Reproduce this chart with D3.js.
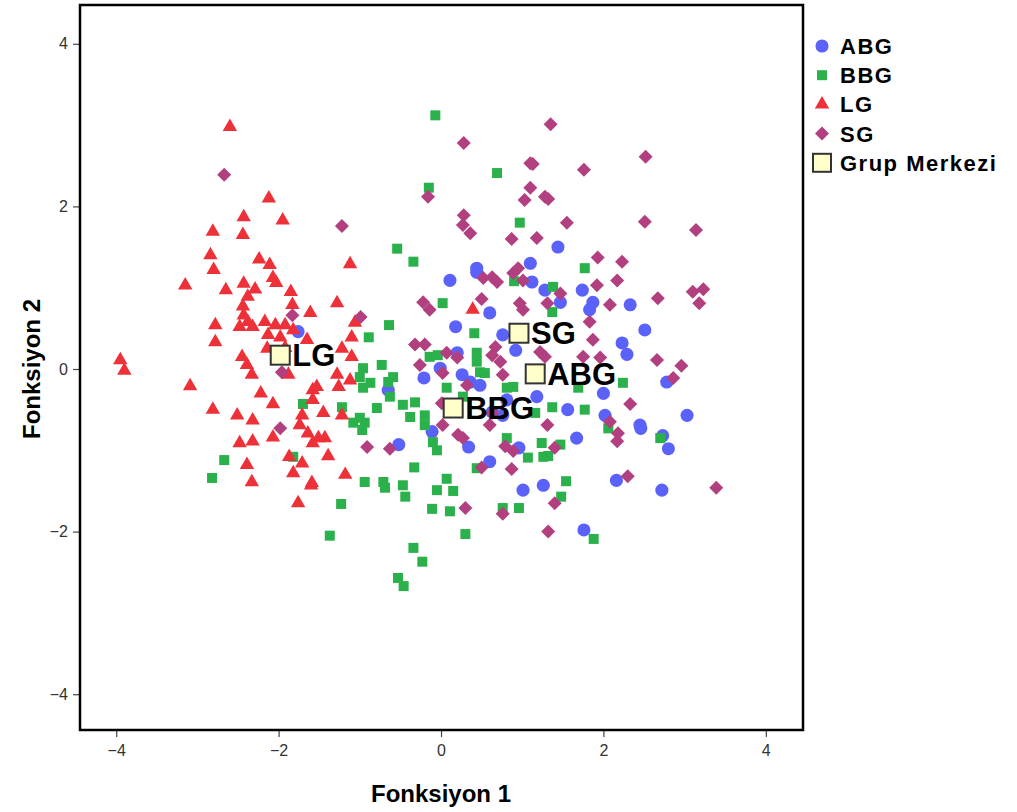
<!DOCTYPE html>
<html>
<head>
<meta charset="utf-8">
<script src="https://cdn.jsdelivr.net/npm/d3@7"></script>
<style>
  body { margin: 0; background: #fff; }
</style>
</head>
<body>
<div id="chart"></div>
<script>

// group names + legend
var groups = ['ABG', 'BBG', 'LG', 'SG'];
var centroidLabel = 'Grup Merkezi';
var xTicks = [-4, -2, 0, 2, 4];
var yTicks = [-4, -2, 0, 2, 4];

// discriminant scores [Fonksiyon 1, Fonksiyon 2]
var abg = [[-1.76,0.46],[0.11,1.09],[0.44,1.19],[0.60,0.69],[0.18,0.52],[0.76,0.42],[0.20,0.20],[-0.21,-0.11],
  [-0.01,0.01],[0.26,-0.07],[0.36,-0.16],[0.48,-0.20],[-0.65,-0.26],[0.63,-0.53],[0.76,-0.57],[0.44,1.24],
  [1.10,1.30],[1.44,1.50],[1.12,1.07],[1.28,0.97],[1.74,0.97],[1.47,0.82],[1.87,0.82],[1.83,0.73],[2.33,0.79],
  [2.51,0.48],[2.23,0.32],[2.29,0.18],[2.00,-0.30],[2.78,-0.16],[1.56,-0.50],[2.02,-0.57],[2.45,-0.69],
  [3.03,-0.57],[1.18,-0.34],[-0.52,-0.93],[-0.11,-0.77],[0.34,-0.96],[0.60,-1.14],[0.96,-0.97],[1.01,-1.49],
  [1.67,-0.85],[2.46,-0.73],[2.73,-0.82],[2.80,-0.98],[1.26,-1.43],[2.16,-1.37],[2.72,-1.49],[1.76,-1.98],
  [0.92,0.23],[0.81,-0.38]];

var bbg = [[-1.70,-0.43],[-2.67,-1.12],[-2.82,-1.34],[-1.82,-1.08],[-0.07,3.12],[0.69,2.41],[-0.15,2.23],
  [0.97,1.80],[-0.54,1.48],[-0.34,1.32],[0.02,0.81],[0.90,1.08],[-0.64,0.54],[-0.89,0.39],[0.41,0.44],
  [-0.14,0.15],[-0.04,0.17],[-0.73,0.05],[-0.96,0.01],[-1.00,-0.10],[-0.87,-0.17],[-0.96,-0.23],[-0.59,-0.10],
  [-0.65,-0.16],[0.44,0.20],[0.44,0.09],[0.48,-0.04],[0.54,-0.05],[0.07,-0.23],[-0.63,-0.34],[-0.47,-0.44],
  [-0.32,-0.41],[-0.79,-0.48],[-1.22,-0.47],[-0.20,-0.57],[-1.00,-0.60],[-1.08,-0.66],[-0.94,-0.66],
  [-0.38,-0.59],[0.27,-0.34],[0.89,-0.22],[0.81,-0.23],[1.77,1.24],[1.38,1.01],[1.37,0.70],[2.24,-0.17],
  [1.69,-0.23],[1.37,-0.47],[1.77,-0.50],[1.16,-0.54],[-0.97,-0.75],[-0.10,-0.90],[-0.05,-1.00],[-0.33,-1.21],
  [-0.94,-1.39],[-0.71,-1.39],[-0.69,-1.46],[-0.47,-1.43],[-0.44,-1.57],[0.07,-1.35],[-0.05,-1.49],[0.15,-1.50],
  [-1.23,-1.66],[-0.11,-1.72],[0.11,-1.75],[-1.37,-2.05],[0.30,-2.03],[-0.34,-2.20],[-0.23,-2.37],[-0.53,-2.57],
  [-0.46,-2.67],[0.81,-0.85],[0.44,-1.22],[0.76,-1.71],[0.96,-1.71],[1.07,-1.09],[1.24,-0.91],[1.47,-0.93],
  [1.26,-1.08],[1.32,-1.07],[1.54,-1.38],[1.48,-1.57],[2.70,-0.85],[1.88,-2.09],[2.06,-0.73],[-0.20,-0.69]];

var lg = [[-2.60,2.98],[-2.12,2.10],[-2.43,1.87],[-1.95,1.83],[-2.81,1.69],[-2.44,1.65],[-2.84,1.40],[-2.24,1.35],
  [-2.11,1.28],[-2.80,1.22],[-3.15,1.03],[-2.65,0.97],[-2.43,1.05],[-2.29,0.98],[-2.07,1.12],[-2.03,1.06],
  [-1.85,0.95],[-2.38,0.89],[-2.44,0.77],[-1.83,0.79],[-2.43,0.66],[-1.61,0.69],[-2.78,0.54],[-2.48,0.52],
  [-2.38,0.58],[-2.32,0.52],[-2.17,0.58],[-2.04,0.54],[-1.92,0.54],[-2.13,0.42],[-1.98,0.39],[-1.82,0.48],
  [-1.65,0.36],[-2.78,0.33],[-2.14,0.25],[-1.92,0.26],[-2.45,0.15],[-2.39,0.05],[-2.33,-0.07],[-1.88,-0.07],
  [-3.95,0.11],[-3.90,-0.02],[-3.09,-0.21],[-1.58,-0.26],[-2.22,-0.30],[-2.07,-0.43],[-2.81,-0.50],[-2.51,-0.57],
  [-2.32,-0.63],[-1.71,-0.57],[-1.74,-0.69],[-2.48,-0.91],[-2.32,-0.89],[-2.07,-0.84],[-1.64,-0.79],[-1.58,-0.91],
  [-1.87,-1.08],[-1.71,-1.16],[-2.39,-1.18],[-2.33,-1.39],[-1.82,-1.28],[-1.60,-1.43],[-1.76,-1.65],[-1.12,1.29],
  [-1.28,0.81],[-1.06,0.57],[-1.10,0.39],[-1.22,0.25],[-1.10,0.15],[-1.28,-0.07],[-1.12,-0.14],[-1.26,-0.22],
  [-1.53,-0.22],[-1.45,-0.54],[-1.22,-0.57],[-1.58,-0.38],[0.39,0.73],[-1.51,-0.85],[-1.43,-0.85],[-1.39,-1.07],
  [-1.18,-1.30],[-1.59,-1.40]];

var sg = [[-2.67,2.39],[-1.83,0.66],[-1.96,-0.04],[-1.98,-0.73],[-0.99,0.64],[-0.22,0.82],[-0.14,0.73],[0.50,0.86],
  [0.52,1.12],[0.63,1.13],[0.69,1.07],[0.89,1.18],[1.01,1.09],[0.97,0.81],[1.01,0.73],[-0.32,0.30],[-0.20,0.30],
  [-0.26,0.05],[0.02,-0.05],[0.07,0.20],[0.20,0.14],[0.67,0.27],[0.63,0.17],[0.73,0.09],[0.76,-0.07],[0.32,-0.20],
  [0.01,-0.42],[0.63,-0.54],[0.02,-0.69],[0.28,2.78],[-0.16,2.12],[0.28,1.89],[0.27,1.77],[0.36,1.67],[0.87,1.60],
  [-1.22,1.76],[1.10,2.53],[1.10,2.23],[1.03,2.08],[0.95,1.24],[1.35,3.01],[1.13,2.52],[2.52,2.61],[1.76,2.45],
  [1.28,2.12],[1.32,2.09],[1.55,1.80],[2.51,1.81],[3.14,1.71],[1.18,1.61],[1.93,1.37],[2.23,1.32],[1.92,1.03],
  [2.17,1.09],[1.47,0.93],[1.31,0.81],[2.08,0.79],[2.67,0.87],[3.10,0.95],[3.23,0.98],[3.18,0.81],[1.83,0.58],
  [1.87,0.36],[1.75,0.15],[1.96,0.14],[2.66,0.11],[2.96,0.04],[2.86,-0.11],[2.33,-0.43],[2.08,-0.65],[1.31,-0.69],
  [1.22,0.21],[1.28,0.15],[-0.91,-0.96],[-0.63,-0.98],[0.21,-0.81],[0.27,-0.85],[0.60,-0.69],[0.79,-0.95],
  [0.89,-1.01],[0.50,-1.21],[0.87,-1.23],[0.30,-1.71],[0.76,-1.78],[1.40,-0.97],[2.18,-0.79],[2.17,-0.89],
  [2.30,-1.32],[1.40,-1.65],[1.32,-2.00],[3.39,-1.46]];

// group centroids
var centroids = [[1.16,-0.06],[0.15,-0.48],[-1.98,0.17],[0.96,0.44]];

var colors = ['#5b62fa', '#2bb14b', '#ee3139', '#b23f7f'];
var shapes = [d3.symbolCircle, d3.symbolSquare, d3.symbolTriangle, d3.symbolSquare];
var sizes = [135, 100, 90, 98];
var rotations = [0, 0, 0, 45];

var width = 1017,
    height = 812;

var margin = {top: 5, right: 214, bottom: 82, left: 80};

var svg = d3.select('#chart')
  .append('svg')
  .attr('width', width)
  .attr('height', height);

var x = d3.scaleLinear()
  .domain([-4.446, 4.458])
  .range([margin.left, width - margin.right]);

var y = d3.scaleLinear()
  .domain([-4.44, 4.477])
  .range([height - margin.bottom, margin.top]);

var font = '"Liberation Sans", Arial, sans-serif';

// axes
var xAxis = svg.append('g')
  .attr('transform', 'translate(0,' + (height - margin.bottom) + ')')
  .call(d3.axisBottom(x).tickValues(xTicks).tickSize(7).tickPadding(8));

var yAxis = svg.append('g')
  .attr('transform', 'translate(' + margin.left + ',0)')
  .call(d3.axisLeft(y).tickValues(yTicks).tickSize(7).tickPadding(5));

[xAxis, yAxis].forEach(function(ax) {
  ax.select('.domain').remove();
  ax.selectAll('.tick line').attr('stroke', '#444').attr('stroke-width', 1.2);
  ax.selectAll('.tick text')
    .attr('fill', '#333')
    .style('font-family', font)
    .style('font-size', '16px');
});

// points
var series = [abg, bbg, lg, sg];
series.forEach(function(pts, i) {
  svg.append('g')
    .selectAll('path')
    .data(pts)
    .enter()
    .append('path')
    .attr('d', d3.symbol().type(shapes[i]).size(sizes[i]))
    .attr('transform', function(d) {
      return 'translate(' + x(d[0]) + ',' + y(d[1]) + ') rotate(' + rotations[i] + ')';
    })
    .attr('fill', colors[i]);
});

// group centroids + labels
var cg = svg.append('g')
  .selectAll('g')
  .data(centroids)
  .enter()
  .append('g')
  .attr('transform', function(d) { return 'translate(' + x(d[0]) + ',' + y(d[1]) + ')'; });

cg.append('rect')
  .attr('x', -9.5).attr('y', -9.5)
  .attr('width', 19).attr('height', 19)
  .attr('fill', '#ffffcc')
  .attr('stroke', '#333')
  .attr('stroke-width', 2);

cg.append('text')
  .attr('x', 12)
  .attr('dy', '0.36em')
  .style('font-family', font)
  .style('font-weight', 'bold')
  .style('font-size', '31px')
  .text(function(d, i) { return groups[i]; });

// plot frame
svg.append('rect')
  .attr('x', margin.left)
  .attr('y', margin.top)
  .attr('width', width - margin.left - margin.right)
  .attr('height', height - margin.top - margin.bottom)
  .attr('fill', 'none')
  .attr('stroke', '#000')
  .attr('stroke-width', 2.5);

// axis titles
svg.append('text')
  .attr('x', x(0))
  .attr('y', 802)
  .attr('text-anchor', 'middle')
  .style('font-family', font)
  .style('font-weight', 'bold')
  .style('font-size', '24px')
  .text('Fonksiyon 1');

svg.append('text')
  .attr('transform', 'translate(40,' + y(0) + ') rotate(-90)')
  .attr('text-anchor', 'middle')
  .style('font-family', font)
  .style('font-weight', 'bold')
  .style('font-size', '24px')
  .text('Fonksiyon 2');

// legend
var legend = svg.append('g')
  .attr('transform', 'translate(822,46)');

var items = legend.selectAll('g')
  .data(groups.concat([centroidLabel]))
  .enter()
  .append('g')
  .attr('transform', function(d, i) { return 'translate(0,' + (i * 29.2) + ')'; });

items.filter(function(d, i) { return i < 4; })
  .append('path')
  .attr('d', function(d, i) { return d3.symbol().type(shapes[i]).size(sizes[i])(); })
  .attr('transform', function(d, i) { return 'rotate(' + rotations[i] + ')'; })
  .attr('fill', function(d, i) { return colors[i]; });

items.filter(function(d, i) { return i == 4; })
  .append('rect')
  .attr('x', -9).attr('y', -9)
  .attr('width', 18).attr('height', 18)
  .attr('fill', '#ffffcc')
  .attr('stroke', '#333')
  .attr('stroke-width', 2);

items.append('text')
  .attr('x', 18)
  .attr('dy', '0.36em')
  .style('font-family', font)
  .style('font-weight', 'bold')
  .style('font-size', '22px')
  .style('letter-spacing', '1.5px')
  .text(function(d) { return d; });

</script>
</body>
</html>
